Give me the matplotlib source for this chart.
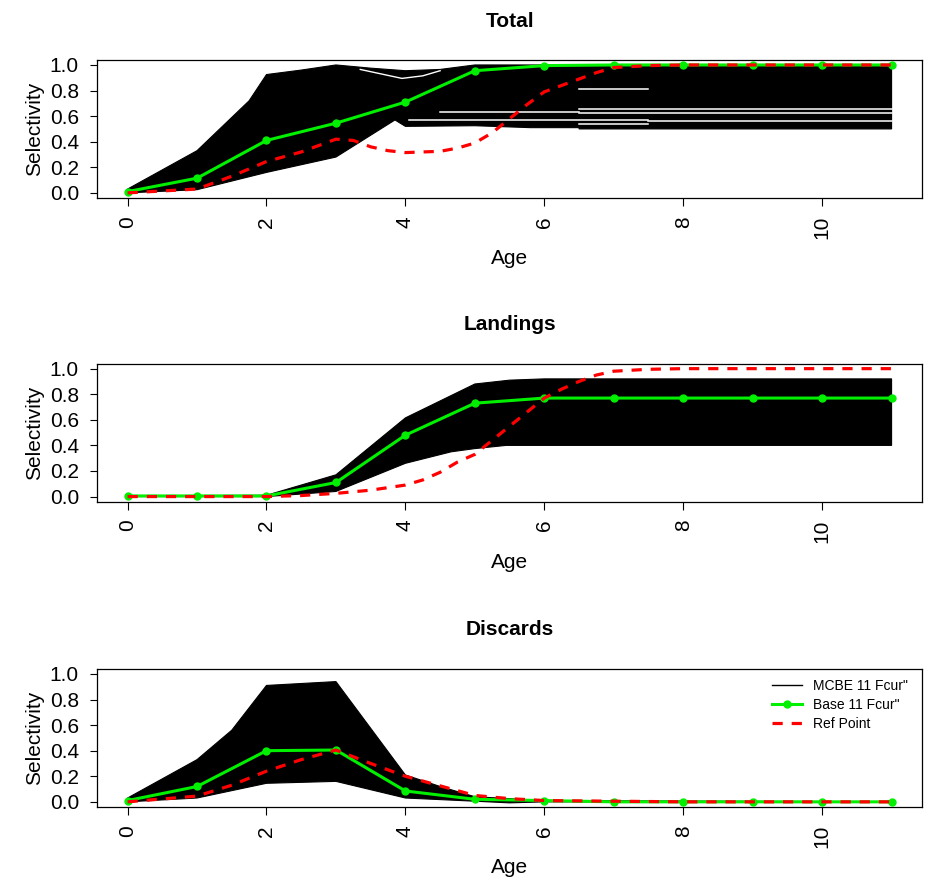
import matplotlib
matplotlib.use("Agg")
import matplotlib.pyplot as plt
import numpy as np

plt.rcParams["font.family"] = ["Liberation Sans", "DejaVu Sans"]

ages = [0, 1, 2, 3, 4, 5, 6, 7, 8, 9, 10, 11]
panel_titles = ["Total", "Landings", "Discards"]
legend_labels = ['MCBE 11 Fcur"', 'Base 11 Fcur"', "Ref Point"]

# Base run (green)
total_base = [0.01, 0.115, 0.41, 0.545, 0.71, 0.955, 0.995, 1.0, 1.0, 1.0, 1.0, 1.0]
land_base = [0.005, 0.005, 0.005, 0.11, 0.48, 0.73, 0.77, 0.77, 0.77, 0.77, 0.77, 0.77]
disc_base = [0.01, 0.12, 0.40, 0.405, 0.085, 0.02, 0.01, 0.0, 0.0, 0.0, 0.0, 0.0]

# Reference point (red dashed)
total_ref_age = [0, 1, 1.5, 2, 2.5, 3, 3.25, 3.5, 3.75, 4, 4.5, 4.75, 5, 5.25, 5.5, 5.75,
                 6, 6.25, 6.5, 6.75, 7, 7.5, 8, 9, 10, 11]
total_ref = [0.0, 0.03, 0.13, 0.245, 0.32, 0.42, 0.41, 0.36, 0.33, 0.315, 0.325, 0.35, 0.39,
             0.47, 0.58, 0.69, 0.79, 0.84, 0.89, 0.94, 0.98, 0.995, 1.0, 1.0, 1.0, 1.0]
land_ref_age = [0, 1, 2, 2.5, 3, 3.5, 4, 4.25, 4.5, 4.75, 5, 5.25, 5.5, 5.75, 6, 6.25, 6.5,
                6.75, 7, 7.5, 8, 9, 10, 11]
land_ref = [0.0, 0.0, 0.0, 0.008, 0.025, 0.05, 0.09, 0.13, 0.19, 0.27, 0.33, 0.44, 0.55,
            0.66, 0.77, 0.84, 0.9, 0.95, 0.98, 0.995, 1.0, 1.0, 1.0, 1.0]
disc_ref_age = [0, 1, 1.5, 2, 2.5, 3, 3.5, 4, 4.5, 5, 5.5, 6, 7, 8, 9, 10, 11]
disc_ref = [0.0, 0.045, 0.13, 0.24, 0.33, 0.405, 0.30, 0.2, 0.125, 0.05, 0.025, 0.01, 0.005,
            0.0, 0.0, 0.0, 0.0]

# MCBE runs: upper and lower envelope of the bundle of black lines
total_hi_age = [0, 1, 1.5, 1.75, 2, 2.5, 3, 3.5, 4, 4.5, 5, 11]
total_hi = [0.03, 0.33, 0.59, 0.72, 0.925, 0.96, 1.0, 0.975, 0.955, 0.965, 1.0, 1.0]
total_lo_age = [0, 1, 2, 3, 3.85, 4, 5, 5.8, 6.5, 6.5, 11]
total_lo = [0.0, 0.025, 0.16, 0.28, 0.57, 0.52, 0.525, 0.51, 0.51, 0.50, 0.50]

land_hi_age = [0, 2, 3, 4, 5, 5.5, 6, 11]
land_hi = [0.005, 0.01, 0.17, 0.615, 0.88, 0.91, 0.92, 0.92]
land_lo_age = [0, 2, 3, 4, 4.66, 5, 5.45, 11]
land_lo = [0.0, 0.0, 0.04, 0.26, 0.35, 0.375, 0.40, 0.40]

disc_hi_age = [0, 1, 1.5, 2, 2.5, 3, 4, 4.5, 5, 6, 11]
disc_hi = [0.03, 0.33, 0.56, 0.91, 0.925, 0.94, 0.21, 0.12, 0.04, 0.01, 0.0]
disc_lo_age = [0, 1, 2, 3, 4, 5, 5.5, 6, 11]
disc_lo = [0.0, 0.03, 0.145, 0.16, 0.03, 0.005, -0.008, 0.0, 0.0]

# gaps between MCBE lines in the Total panel: (age from, age to, selectivity)
total_gap_from = [6.5, 6.5, 6.5, 4.5, 4.05, 7.5, 6.5]
total_gap_to = [7.5, 11, 11, 6.5, 7.5, 11, 7.5]
total_gap_sel = [0.814, 0.655, 0.624, 0.63, 0.572, 0.559, 0.54]
total_top_gap_age = [3.35, 3.65, 3.95, 4.25, 4.5]
total_top_gap = [0.965, 0.93, 0.895, 0.915, 0.955]

panels = [
    (total_base, total_ref_age, total_ref, total_hi_age, total_hi, total_lo_age, total_lo),
    (land_base, land_ref_age, land_ref, land_hi_age, land_hi, land_lo_age, land_lo),
    (disc_base, disc_ref_age, disc_ref, disc_hi_age, disc_hi, disc_lo_age, disc_lo),
]

fig = plt.figure(figsize=(9.25, 8.8), dpi=100)
bottoms = [0.775, 0.4299, 0.083]

for i, (base, ref_age, ref, hi_age, hi, lo_age, lo) in enumerate(panels):
    ax = fig.add_axes([0.1049, bottoms[i], 0.892, 0.157])

    # MCBE bundle
    ax.fill(np.r_[hi_age, lo_age[::-1]], np.r_[hi, lo[::-1]], color="black", lw=0.8,
            zorder=1)
    if i == 0:
        for a0, a1, s in zip(total_gap_from, total_gap_to, total_gap_sel):
            ax.plot([a0, a1], [s, s], color="white", lw=1.1, zorder=1.5)
        ax.plot(total_top_gap_age, total_top_gap, color="white", lw=1.0, zorder=1.5)

    mc_line, = ax.plot([], [], color="black", lw=1)
    base_line, = ax.plot(ages, base, color="#00f000", lw=2.2, marker="o", ms=5, zorder=3)
    ref_line, = ax.plot(ref_age, ref, color="#ff0000", lw=2.3, ls=(0, (3.2, 2.8)), zorder=4)

    ax.set_xlim(-0.44, 11.44)
    ax.set_ylim(-0.04, 1.04)
    ax.set_xticks([0, 2, 4, 6, 8, 10])
    ax.set_yticks([0.0, 0.2, 0.4, 0.6, 0.8, 1.0])
    ax.set_yticklabels(["0.0", "0.2", "0.4", "0.6", "0.8", "1.0"])
    ax.tick_params(axis="x", labelrotation=90, labelsize=15, length=6, width=0.8, pad=7)
    ax.tick_params(axis="y", labelsize=15, length=5, width=0.8, pad=8)
    for sp in ax.spines.values():
        sp.set_linewidth(0.9)

    ax.set_title(panel_titles[i], fontsize=15, fontweight="bold", pad=24)
    ax.set_xlabel("Age", fontsize=15)
    ax.set_ylabel("Selectivity", fontsize=15)
    ax.xaxis.set_label_coords(0.5, -0.37)
    ax.yaxis.set_label_coords(-0.064, 0.5)

    if i == 2:
        ax.legend([mc_line, base_line, ref_line], legend_labels, loc="upper right",
                  bbox_to_anchor=(1.0, 1.025), frameon=False, fontsize=10,
                  handlelength=2.2, handletextpad=0.8, labelspacing=0.35,
                  borderaxespad=0.6)

fig.savefig("out.png", dpi=100, facecolor="white")
